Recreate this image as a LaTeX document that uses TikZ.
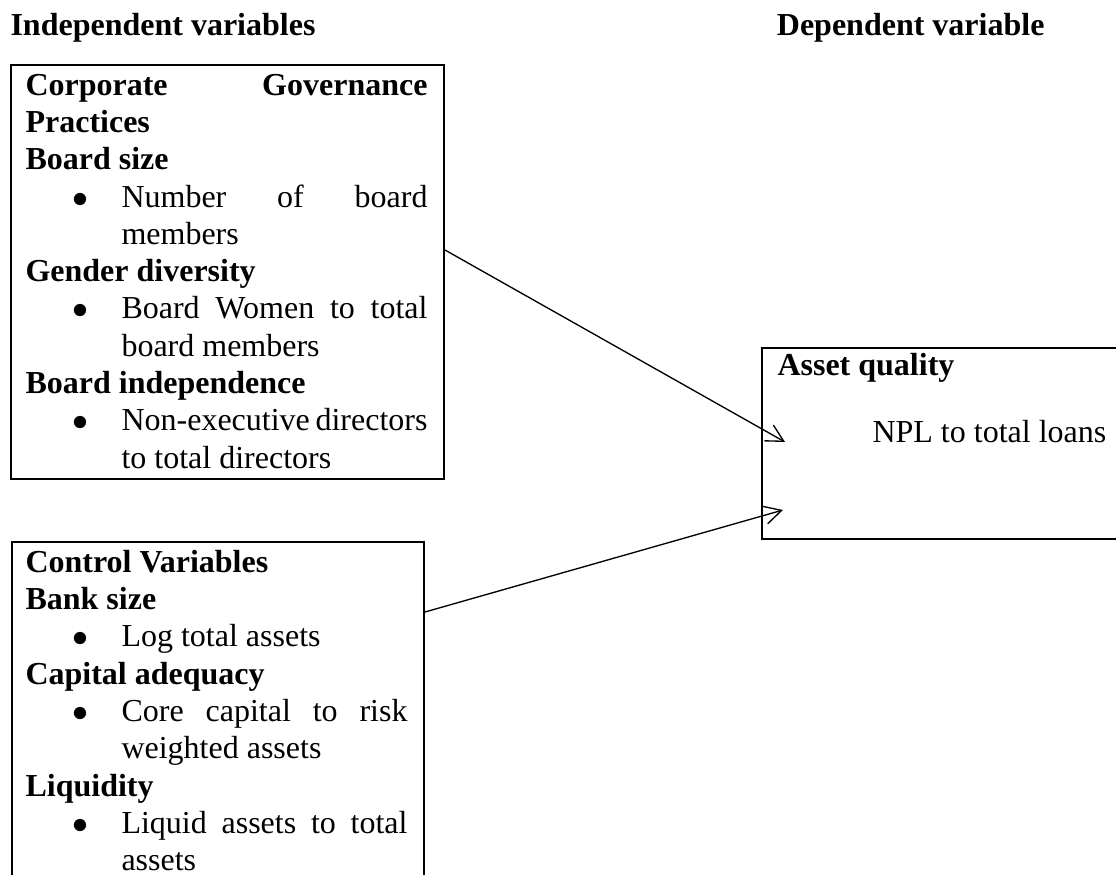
\documentclass[tikz,border=0pt]{standalone}
\usepackage{fontspec}
\setmainfont{Liberation Serif}
\usetikzlibrary{arrows.meta,calc}
\newcommand\mybul{\hbox to 36pt{\hskip 17.6pt$\bullet$\hss}}
\newcommand\fl[1]{\hbox to\hsize{#1}}
\newcommand\frl[1]{\hbox to\hsize{#1\hfill}}
\newcommand\bl[1]{\hbox to\hsize{\mybul#1}}
\newcommand\brl[1]{\hbox to\hsize{\mybul#1\hfill}}
\newcommand\cl[1]{\hbox to\hsize{\hskip 36pt #1\hfill}}
\tikzset{
  box/.style={draw, line width=0.75pt, inner sep=0pt, anchor=north west},
  txt/.style={inner sep=0pt, anchor=base west, font=\fontsize{12}{14}\selectfont},
  head/.style={inner sep=0pt, font=\fontsize{12}{14}\selectfont\bfseries},
  arr/.style={line width=0.5pt, -{Straight Barb[length=6.4pt,width=6.8pt,line width=0.5pt]}}
}
\begin{document}
\begin{tikzpicture}[x=0.375pt,y=-0.375pt]
\useasboundingbox (0,0) rectangle (1116,875);
\clip (0,0) rectangle (1116,875);
\node[head, anchor=base west] (hind) at (10,35) {Independent variables};
\node[head, anchor=base east] (hdep) at (1045,35) {Dependent variable};
% boxes
\node[box, minimum width=162.375pt, minimum height=155.25pt] (gov) at (10,64) {};
\node[box, minimum width=154.5pt, minimum height=150pt] (ctrl) at (11,541) {};
\node[box, minimum width=150pt, minimum height=71.6pt] (dep) at (761,347) {};
% texts
\node[txt] (govt) at (25,95) {\parbox[t]{150.75pt}{\baselineskip=14pt
\fl{\textbf{Corporate Governance}}
\frl{\textbf{Practices}}
\frl{\textbf{Board size}}
\bl{Number of board}
\cl{members}
\frl{\textbf{Gender diversity}}
\bl{Board Women to total}
\cl{board members}
\frl{\textbf{Board independence}}
\bl{Non-executive directors}
\cl{to total directors}}};
\node[txt] (ctrlt) at (25,572) {\parbox[t]{143.25pt}{\baselineskip=14pt
\frl{\textbf{Control Variables}}
\frl{\textbf{Bank size}}
\brl{Log total assets}
\frl{\textbf{Capital adequacy}}
\bl{Core capital to risk}
\cl{weighted assets}
\frl{\textbf{Liquidity}}
\bl{Liquid assets to total}
\cl{assets}}};
\node[txt, font=\fontsize{12}{14}\selectfont\bfseries] (dept) at (777,375) {Asset quality};
\node[txt] (npl) at (872,442) {NPL to total loans};
% connectors
\coordinate (t1) at ($(dep.north west)+(24,95)$);
\coordinate (t2) at ($(dep.north west)+(22,163)$);
\draw[arr] ($(gov.north east)+(0,186)$) -- (t1);
\draw[arr] ($(ctrl.north east)+(0,71)$) -- (t2);
\end{tikzpicture}
\end{document}
